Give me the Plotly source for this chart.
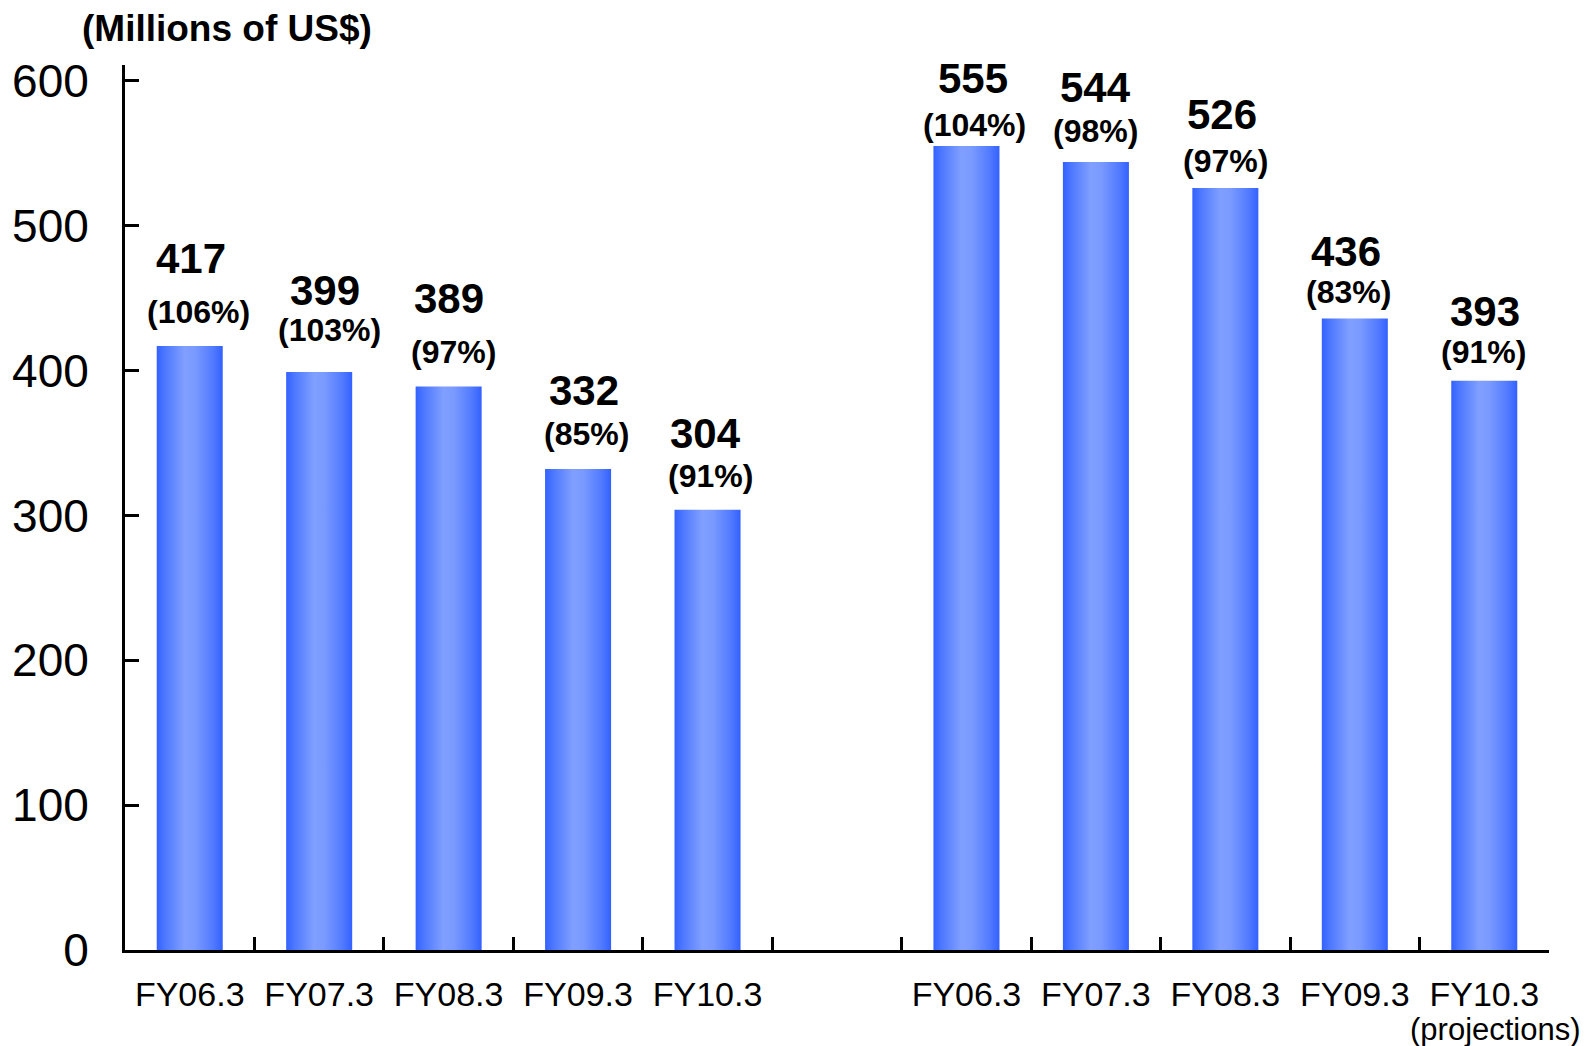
import plotly.graph_objects as go

# Fiscal years shown under each group of bars
fiscal_years = ["FY06.3", "FY07.3", "FY08.3", "FY09.3", "FY10.3"]

# Left group: values (millions of US$) and year-on-year ratio (%)
left_values = [417, 399, 389, 332, 304]
left_ratio = [106, 103, 97, 85, 91]

# Right group: values (millions of US$) and year-on-year ratio (%); FY10.3 is a projection
right_values = [555, 544, 526, 436, 393]
right_ratio = [104, 98, 97, 83, 91]

y_ticks = [0, 100, 200, 300, 400, 500, 600]

# ---- layout helpers (pixel lifts for the two-line labels above each bar) ----
value_lift = [88, 82, 88, 79, 76, 68, 75, 74, 67, 69]
ratio_lift = [34, 42, 35, 35, 34, 21, 31, 27, 26, 29]
value_xshift = [1, 6, 0, 6, -2, 7, 0, -3, -9, 1]
ratio_xshift = [9, 10, 5, 8, 3, 8, 0, 0, -6, -1]

BAR_W = 0.51
FONT = "Liberation Sans, Arial, sans-serif"
gradient = [
    [0.0, "#3361ff"],
    [0.12, "#4c77ff"],
    [0.42, "#809fff"],
    [0.58, "#7a9aff"],
    [0.86, "#5079ff"],
    [1.0, "#3361ff"],
]

n = len(fiscal_years)
positions = list(range(n)) + [n + 1 + i for i in range(n)]  # one empty slot between groups
values = left_values + right_values
ratios = left_ratio + right_ratio
labels = fiscal_years + fiscal_years

fig = go.Figure()

# Bars as filled rectangles so each can carry a horizontal gradient
for x, v in zip(positions, values):
    x0, x1 = x - BAR_W / 2, x + BAR_W / 2
    fig.add_trace(go.Scatter(
        x=[x0, x1, x1, x0, x0],
        y=[0, 0, v, v, 0],
        mode="lines",
        fill="toself",
        line=dict(width=0),
        fillgradient=dict(type="horizontal", colorscale=gradient),
        hoverinfo="skip",
        showlegend=False,
    ))

# Invisible trace on the overlay axis that carries the category boundary ticks
fig.add_trace(go.Scatter(x=[0], y=[0], xaxis="x2", mode="markers",
                         marker=dict(opacity=0), hoverinfo="skip", showlegend=False))

# Value and ratio labels above each bar
for i, (x, v, r) in enumerate(zip(positions, values, ratios)):
    fig.add_annotation(x=x, y=v, text=f"<b>{v}</b>", showarrow=False,
                       xanchor="center", yanchor="middle",
                       yshift=value_lift[i], xshift=value_xshift[i],
                       font=dict(family=FONT, size=42, color="black"))
    fig.add_annotation(x=x, y=v, text=f"<b>({r}%)</b>", showarrow=False,
                       xanchor="center", yanchor="middle",
                       yshift=ratio_lift[i], xshift=ratio_xshift[i],
                       font=dict(family=FONT, size=32, color="black"))

# Note under the last (projected) year
fig.add_annotation(x=positions[-1], y=0, yref="paper", text="(projections)",
                   showarrow=False, xanchor="center", yanchor="top",
                   xshift=11, yshift=-61, borderpad=0,
                   font=dict(family=FONT, size=31, color="black"))

# Unit label
fig.add_annotation(x=-0.5, y=1, xref="x", yref="paper", text="<b>(Millions of US$)</b>",
                   showarrow=False, xanchor="center", yanchor="middle",
                   xshift=102, yshift=37,
                   font=dict(family=FONT, size=37, color="black"))

x_range = [-0.5, positions[-1] + 0.5]
boundaries = [p + 0.5 for p in range(positions[-1] + 1)]

fig.update_layout(
    width=1585, height=1046,
    margin=dict(l=121, r=36, t=65, b=96),
    paper_bgcolor="white", plot_bgcolor="white",
    font=dict(family=FONT, color="black"),
    xaxis=dict(
        range=x_range, tickmode="array", tickvals=positions, ticktext=labels,
        ticks="", showgrid=False, zeroline=False,
        showline=True, linecolor="black", linewidth=3,
        tickfont=dict(size=34, color="black"), ticklabelstandoff=12,
        fixedrange=True,
    ),
    xaxis2=dict(
        range=x_range, overlaying="x", anchor="y", side="bottom",
        tickmode="array", tickvals=boundaries, ticks="inside",
        ticklen=13, tickwidth=2.5, tickcolor="black",
        showticklabels=False, showgrid=False, zeroline=False, showline=False,
    ),
    yaxis=dict(
        range=[0, 611], tickmode="array", tickvals=y_ticks,
        ticks="inside", ticklen=14, tickwidth=2.5, tickcolor="black",
        showgrid=False, zeroline=False,
        showline=True, linecolor="black", linewidth=3,
        tickfont=dict(size=46, color="black"), ticklabelstandoff=24,
    ),
)

fig.write_html("out.html")
